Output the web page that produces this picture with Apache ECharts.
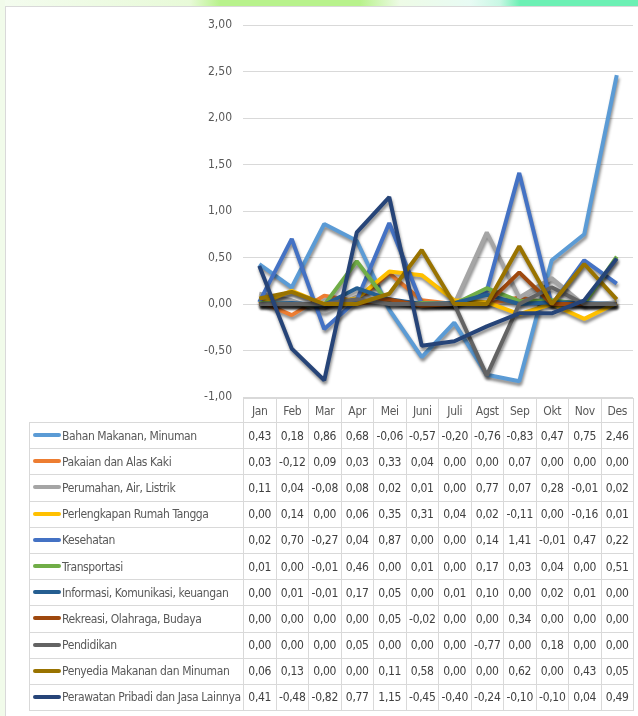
<!DOCTYPE html>
<html>
<head>
<meta charset="utf-8">
<script src="https://cdn.jsdelivr.net/npm/echarts@6/dist/echarts.min.js"></script>
<style>
  body { margin: 0; background: #fff; }
  #wrap { position: relative; width: 638px; height: 716px; overflow: hidden; background: #fff; }
  #topband { position: absolute; left: 0; top: 0; width: 638px; height: 6px;
    background: linear-gradient(90deg, #f4fcef 0px, #e8fad8 190px, #b8f28c 220px, #b8f28c 360px, #eefbe6 400px, #e8fbf4 470px, #c8f7e4 500px, #6cf0b4 520px, #6cf0b4 638px); }
  #leftband { position: absolute; left: 0; top: 0; width: 5px; height: 716px; background: #f1fbea; }
  #frame { position: absolute; left: 5px; top: 6px; width: 640px; height: 720px; border-left: 1px solid #d9d9d9; border-top: 1px solid #d9d9d9; }
  #chart { position: absolute; left: 0; top: 0; width: 638px; height: 716px; }
  #tbl { position: absolute; left: 29px; top: 398px; width: 604px; border-collapse: collapse; table-layout: fixed;
    font-family: "DejaVu Sans Condensed", "DejaVu Sans", sans-serif; font-stretch: condensed; font-size: 12px; color: #404040; }
  #tbl td { border: 1px solid #d9d9d9; padding: 0; text-align: center; white-space: nowrap; overflow: hidden; letter-spacing: -0.3px; }
  #tbl tr.head td { height: 23px; color: #595959; }
  #tbl tr.head td.blank { border: none; }
  #tbl tr.row td { height: 25.2px; }
  #tbl td.lab { text-align: left; color: #595959; padding-left: 3px; letter-spacing: -0.4px; }
  .key { display: inline-block; width: 28px; height: 4px; border-radius: 2px; vertical-align: middle; margin-right: 1px; position: relative; top: -1px; }
</style>
</head>
<body>
<div id="wrap">
  <div id="topband"></div>
  <div id="leftband"></div>
  <div id="frame"></div>
  <div id="chart"></div>
  <table id="tbl"></table>
</div>
<script>
const months = ['Jan', 'Feb', 'Mar', 'Apr', 'Mei', 'Juni', 'Juli', 'Agst', 'Sep', 'Okt', 'Nov', 'Des'];
const names = [
  'Bahan Makanan, Minuman',
  'Pakaian dan Alas Kaki',
  'Perumahan, Air, Listrik',
  'Perlengkapan Rumah Tangga',
  'Kesehatan',
  'Transportasi',
  'Informasi, Komunikasi, keuangan',
  'Rekreasi, Olahraga,  Budaya',
  'Pendidikan',
  'Penyedia Makanan dan Minuman',
  'Perawatan Pribadi dan Jasa Lainnya'
];
const colors = ['#5B9BD5', '#ED7D31', '#A5A5A5', '#FFC000', '#4472C4', '#70AD47', '#255E91', '#9E480E', '#636363', '#997300', '#264478'];

const bahan = [0.43, 0.18, 0.86, 0.68, -0.06, -0.57, -0.20, -0.76, -0.83, 0.47, 0.75, 2.46];
const pakaian = [0.03, -0.12, 0.09, 0.03, 0.33, 0.04, 0.00, 0.00, 0.07, 0.00, 0.00, 0.00];
const perumahan = [0.11, 0.04, -0.08, 0.08, 0.02, 0.01, 0.00, 0.77, 0.07, 0.28, -0.01, 0.02];
const perlengkapan = [0.00, 0.14, 0.00, 0.06, 0.35, 0.31, 0.04, 0.02, -0.11, 0.00, -0.16, 0.01];
const kesehatan = [0.02, 0.70, -0.27, 0.04, 0.87, 0.00, 0.00, 0.14, 1.41, -0.01, 0.47, 0.22];
const transportasi = [0.01, 0.00, -0.01, 0.46, 0.00, 0.01, 0.00, 0.17, 0.03, 0.04, 0.00, 0.51];
const informasi = [0.00, 0.01, -0.01, 0.17, 0.05, 0.00, 0.01, 0.10, 0.00, 0.02, 0.01, 0.00];
const rekreasi = [0.00, 0.00, 0.00, 0.00, 0.05, -0.02, 0.00, 0.00, 0.34, 0.00, 0.00, 0.00];
const pendidikan = [0.00, 0.00, 0.00, 0.05, 0.00, 0.00, 0.00, -0.77, 0.00, 0.18, 0.00, 0.00];
const penyedia = [0.06, 0.13, 0.00, 0.00, 0.11, 0.58, 0.00, 0.00, 0.62, 0.00, 0.43, 0.05];
const perawatan = [0.41, -0.48, -0.82, 0.77, 1.15, -0.45, -0.40, -0.24, -0.10, -0.10, 0.04, 0.49];

const values = [bahan, pakaian, perumahan, perlengkapan, kesehatan, transportasi, informasi, rekreasi, pendidikan, penyedia, perawatan];

function fmt(v) {
  return v.toFixed(2).replace('.', ',');
}

// tabel data di bawah grafik
let html = '<colgroup><col style="width:214px">';
months.forEach(function () { html += '<col style="width:32.5px">'; });
html += '</colgroup><tr class="head"><td class="blank"></td>';
months.forEach(function (m) { html += '<td>' + m + '</td>'; });
html += '</tr>';
names.forEach(function (n, i) {
  html += '<tr class="row"><td class="lab"><span class="key" style="background:' + colors[i] + '"></span>' + n + '</td>';
  values[i].forEach(function (v) { html += '<td>' + fmt(v) + '</td>'; });
  html += '</tr>';
});
document.getElementById('tbl').innerHTML = html;

const chart = echarts.init(document.getElementById('chart'));

const series = names.map(function (n, i) {
  return {
    name: n,
    type: 'line',
    data: values[i],
    symbol: 'none',
    lineStyle: {
      width: 4,
      color: colors[i],
      shadowColor: 'rgba(0,0,0,0.45)',
      shadowBlur: 3,
      shadowOffsetX: 1,
      shadowOffsetY: 3
    },
    itemStyle: { color: colors[i] }
  };
});

chart.setOption({
  animation: false,
  grid: { left: 243, right: 5, top: 25, bottom: 319 },
  xAxis: {
    type: 'category',
    data: months,
    boundaryGap: true,
    axisLine: { show: false },
    axisTick: { show: false },
    axisLabel: { show: false }
  },
  yAxis: {
    type: 'value',
    min: -1,
    max: 3,
    interval: 0.5,
    axisLabel: {
      formatter: fmt,
      color: '#595959',
      fontSize: 12,
      fontFamily: 'DejaVu Sans Condensed, DejaVu Sans, sans-serif',
      margin: 11
    },
    axisLine: { show: false },
    axisTick: { show: false },
    splitLine: { lineStyle: { color: '#d9d9d9', width: 1 } }
  },
  series: series
});
</script>
</body>
</html>
